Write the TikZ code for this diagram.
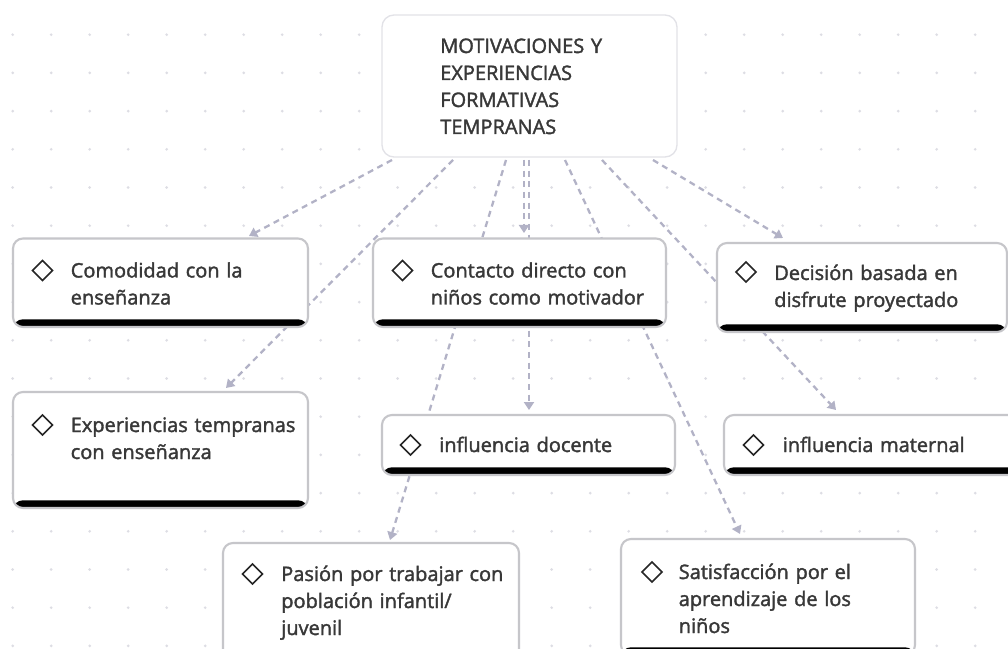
\documentclass[tikz,border=0pt]{standalone}
\usepackage{fontspec}
\setmainfont{Open Sans}[FakeBold=1.8]
\usetikzlibrary{shapes.geometric,arrows.meta,calc}
\definecolor{txt}{HTML}{383838}
\definecolor{bordergray}{HTML}{C6C6CA}
\definecolor{rootborder}{HTML}{E2E2E7}
\definecolor{edgecol}{HTML}{B2B2C6}
\definecolor{dotcol}{HTML}{DDDDE4}
\pgfdeclarelayer{bg}
\pgfsetlayers{bg,main}
\tikzset{
  rootbox/.style={draw=rootborder, line width=1pt, rounded corners=9pt, fill=white, inner sep=0, outer sep=0},
  cbox/.style={draw=bordergray, line width=1.6pt, rounded corners=7.5pt, fill=white, inner sep=0, outer sep=0,
    path picture={\fill[black] ([yshift=5.8pt]path picture bounding box.south west) rectangle (path picture bounding box.south east);}},
  icon/.style={diamond, draw=black!85, line width=1.2pt, minimum size=15pt, inner sep=0, outer sep=0},
  ltext/.style={anchor=base west, inner sep=0, text width=185pt, align=left, text=txt, font=\fontsize{15pt}{20.25pt}\selectfont},
  link/.style={draw=edgecol, line width=1.7pt, dash pattern=on 4.5pt off 3.5pt, -{Triangle[width=7.5pt,length=6pt]}}
}
\begin{document}
\begin{tikzpicture}[x=0.75pt,y=-0.75pt]
\useasboundingbox (0,0) rectangle (1008,649);
% boxes
\node[rootbox, minimum width=221.25pt, minimum height=106.5pt] (root) at (529.5,86) {};
\node[ltext] (roott) at ($(root.north west)+(58,38)$) {MOTIVACIONES Y\\EXPERIENCIAS\\FORMATIVAS\\TEMPRANAS};

\node[cbox, minimum width=221.25pt, minimum height=66.375pt] (b1) at (160.5,282.75) {};
\node[icon] (i1) at ($(b1.north west)+(29.5,32)$) {};
\node[ltext] (t1) at ($(b1.north west)+(57.5,39)$) {Comodidad con la\\enseñanza};

\node[cbox, minimum width=219.75pt, minimum height=66.375pt] (b2) at (519.5,282.75) {};
\node[icon] (i2) at ($(b2.north west)+(29.5,32)$) {};
\node[ltext] (t2) at ($(b2.north west)+(57.5,39)$) {Contacto directo con\\niños como motivador};

\node[cbox, minimum width=217.5pt, minimum height=66.75pt] (b3) at (862,287.5) {};
\node[icon] (i3) at ($(b3.north west)+(29,29)$) {};
\node[ltext] (t3) at ($(b3.north west)+(57,37)$) {Decisión basada en\\disfrute proyectado};

\node[cbox, minimum width=221.25pt, minimum height=87pt] (b4) at (160.5,450) {};
\node[icon] (i4) at ($(b4.north west)+(29.5,33)$) {};
\node[ltext] (t4) at ($(b4.north west)+(57.5,40)$) {Experiencias tempranas\\con enseñanza};

\node[cbox, minimum width=219.75pt, minimum height=45pt] (b5) at (528.5,445) {};
\node[icon] (i5) at ($(b5.north west)+(28.5,30)$) {};
\node[ltext] (t5) at ($(b5.north west)+(57,37)$) {influencia docente};

\node[cbox, minimum width=222pt, minimum height=45pt] (b6) at (872,445) {};
\node[icon] (i6) at ($(b6.north west)+(29.5,30)$) {};
\node[ltext] (t6) at ($(b6.north west)+(58.5,37)$) {influencia maternal};

\node[cbox, minimum width=222pt, minimum height=87pt] (b7) at (371,601) {};
\node[icon] (i7) at ($(b7.north west)+(29.5,31)$) {};
\node[ltext] (t7) at ($(b7.north west)+(58,38)$) {Pasión por trabajar con\\población infantil/\\juvenil};

\node[cbox, minimum width=220.5pt, minimum height=87pt] (b8) at (768,597) {};
\node[icon] (i8) at ($(b8.north west)+(31,33)$) {};
\node[ltext] (t8) at ($(b8.north west)+(57.5,40)$) {Satisfacción por el\\aprendizaje de los\\niños};

\begin{pgfonlayer}{bg}
\fill[white] (0,0) rectangle (1008,649);
\foreach \i in {0,...,26}{
  \foreach \j in {0,...,16}{
    \fill[dotcol] ({12.7+38.5*\i},{34.7+38.2*\j}) circle[radius=1.1pt];
  }
}
\draw[link] ($(root.south west)+(10,3)$) -- ($(b1.north west)+(236,-2.5)$);
\draw[link] ($(root.south west)+(71,3)$) -- ($(b4.north west)+(213,-4)$);
\draw[link] ($(root.south west)+(124,3)$) -- ($(b7.north west)+(167,-3)$);
\draw[link] ($(root.south west)+(142,3)$) -- ($(b2.north west)+(151,-5.5)$);
\draw[link] ($(root.south west)+(147,3)$) -- ($(b5.north west)+(147,-5)$);
\draw[link] ($(root.south west)+(183,3)$) -- ($(b8.north west)+(119,-5)$);
\draw[link] ($(root.south west)+(220,3)$) -- ($(b6.north west)+(112,-5)$);
\draw[link] ($(root.south west)+(271,3)$) -- ($(b3.north west)+(66,-5)$);
\end{pgfonlayer}
\end{tikzpicture}
\end{document}
